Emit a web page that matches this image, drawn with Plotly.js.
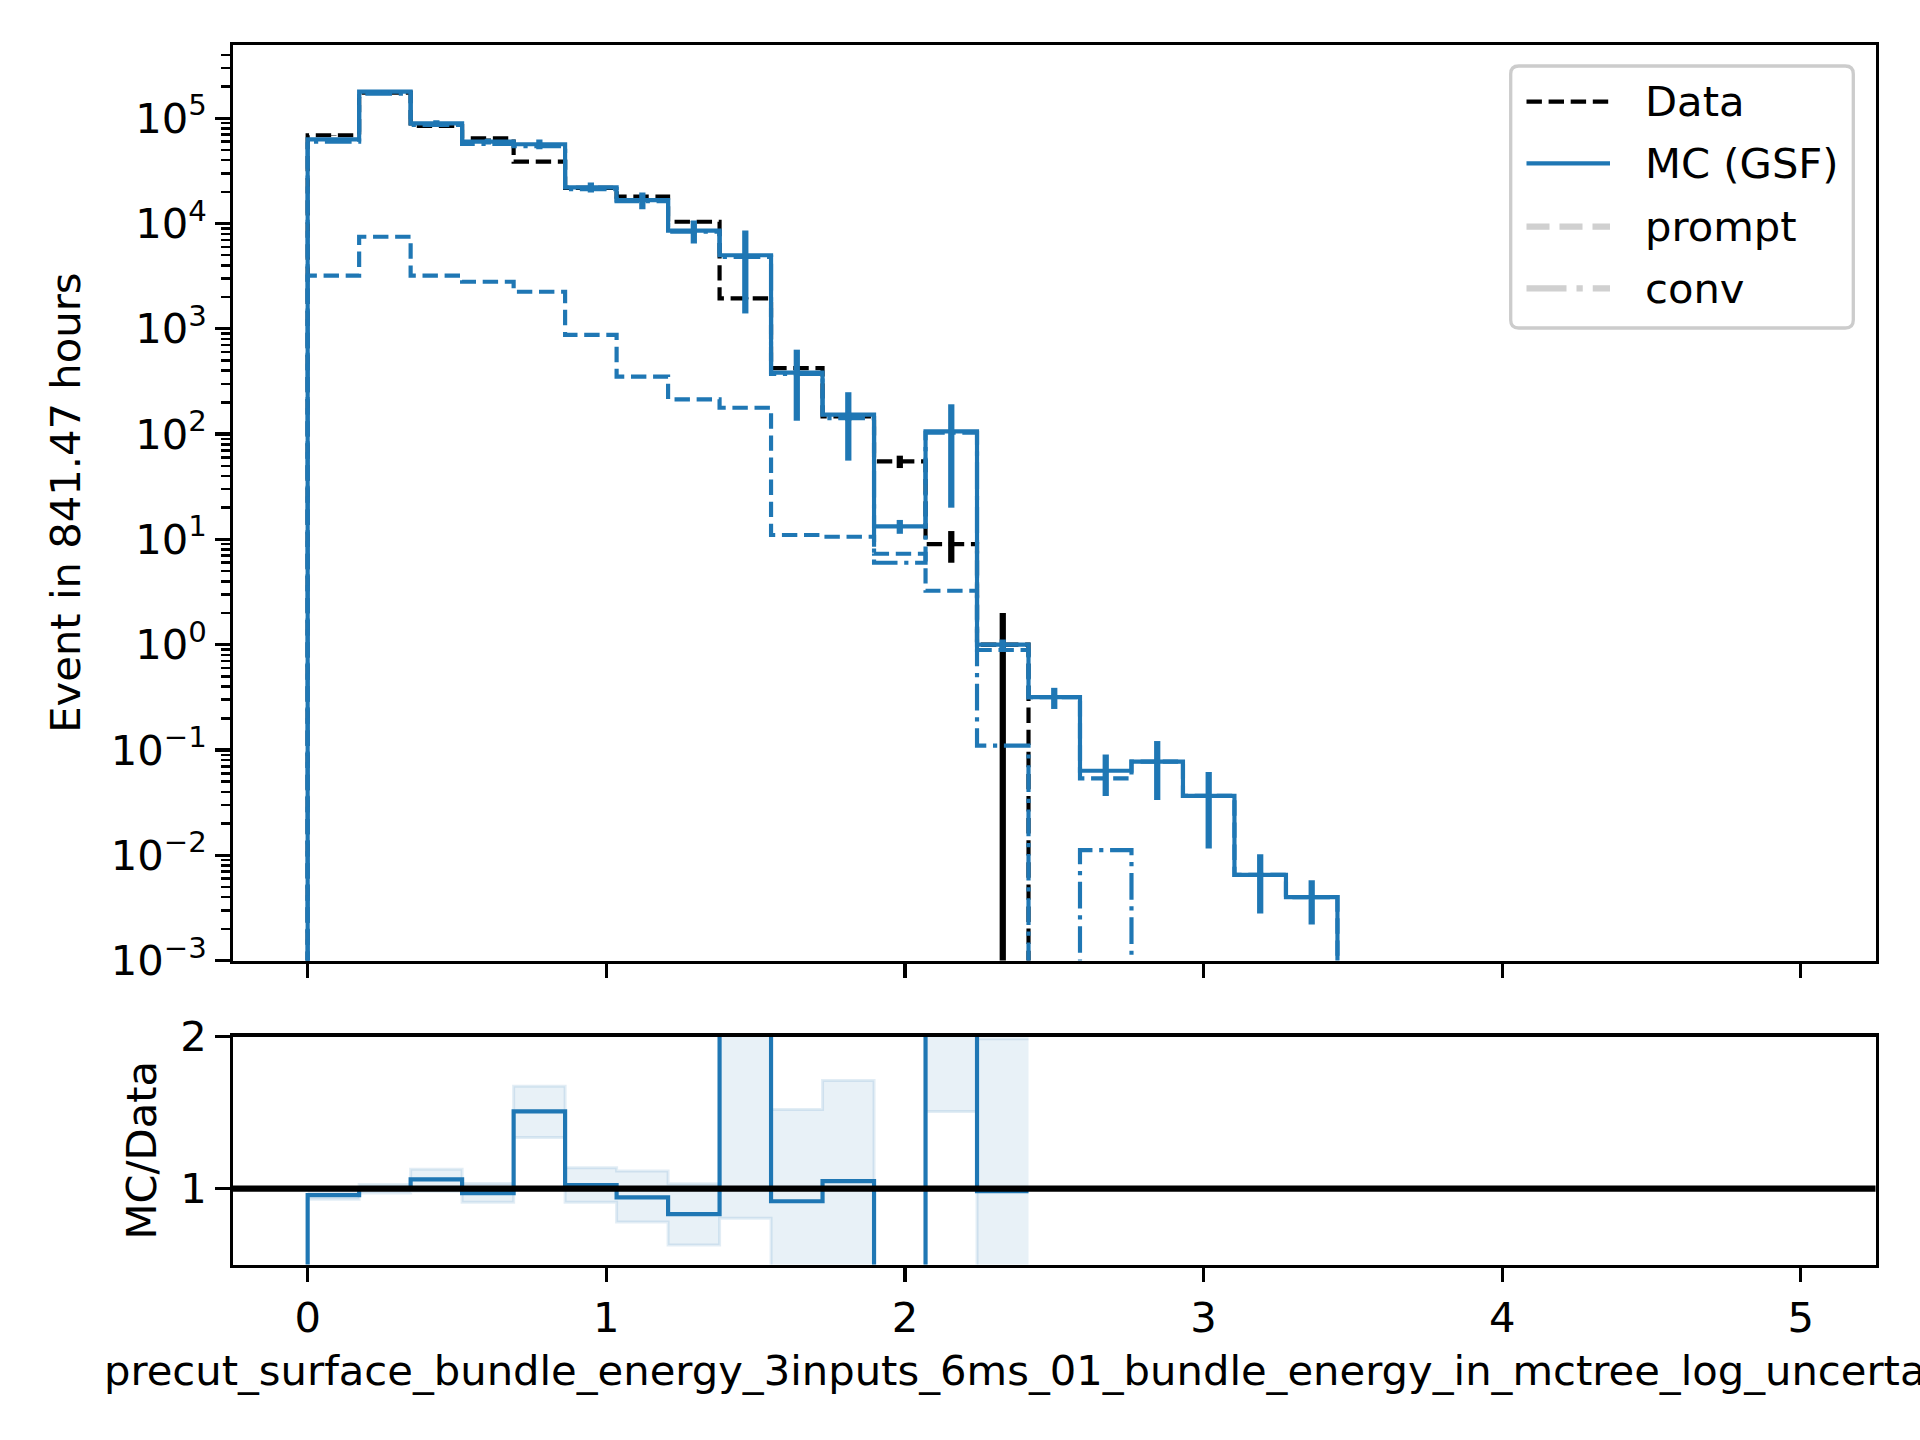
<!DOCTYPE html>
<html>
<head>
<meta charset="utf-8">
<script src="https://cdn.plot.ly/plotly-3.0.1.min.js"></script>
<style>
html, body { margin: 0; padding: 0; background: #ffffff; }
#chart { width: 1920px; height: 1440px; }
</style>
</head>
<body>
<div id="chart"></div>
<script>
// ---------------- data ----------------
const binEdges = [0, 0.1724, 0.3448, 0.5172, 0.6897, 0.8621, 1.0345, 1.2069, 1.3793, 1.5517,
  1.7241, 1.8966, 2.0690, 2.2414, 2.4138, 2.5862, 2.7586, 2.9310, 3.1034, 3.2759,
  3.4483, 3.6207, 3.7931, 3.9655, 4.1379, 4.3103, 4.4828, 4.6552, 4.8276, 5.0];

const dataCounts = [69000, 175000, 84500, 64600, 38700, 21800, 18000, 10400, 1950, 423,
  147, 55, 9, 1, 0, 0, 0, 0, 0, 0, 0, 0, 0, 0, 0, 0, 0, 0, 0];
const dataErr = [263, 418, 291, 254, 197, 148, 134, 102, 44, 21,
  12, 7.4, 3, 1, 0, 0, 0, 0, 0, 0, 0, 0, 0, 0, 0, 0, 0, 0, 0];

const mcTotal = [63000, 179000, 89600, 60000, 56700, 22100, 16700, 8570, 5000, 384,
  153, 13.3, 106, 1.0, 0.317, 0.0635, 0.0775, 0.0366, 0.0065, 0.0040, 0, 0, 0, 0, 0, 0, 0, 0, 0];
const mcErr = [1800, 5000, 6000, 3800, 6000, 2400, 3000, 2100, 3600, 250,
  97, 2.0, 86, 0.12, 0.072, 0.027, 0.044, 0.025, 0.0037, 0.0018, 0, 0, 0, 0, 0, 0, 0, 0, 0];
const mcPrompt = [3200, 7500, 3200, 2800, 2250, 875, 352, 214, 178, 11.0,
  10.6, 7.3, 3.25, 0.89, 0.317, 0.0537, 0.0775, 0.0366, 0.0065, 0.0040, 0, 0, 0, 0, 0, 0, 0, 0, 0];
const mcConv = [59800, 171500, 86400, 57200, 54400, 21200, 16350, 8360, 4820, 373,
  142, 6.0, 103, 0.11, 0, 0.0112, 0, 0, 0, 0, 0, 0, 0, 0, 0, 0, 0, 0, 0];

// ratio MC/Data (bins with data only)
const ratioVals   = [0.956, 1.0, 1.06, 0.97, 1.507, 1.022, 0.942, 0.832, 2.55, 0.916, 1.049, 0.242, 11.8, 0.982];
const ratioBandLo = [0.93, 0.971, 0.982, 0.909, 1.336, 0.909, 0.779, 0.628, 0.805, 0.31, 0.39, 0.20, 1.507, 0.0];
const ratioBandHi = [0.985, 1.027, 1.126, 1.033, 1.673, 1.137, 1.115, 1.031, 4.3, 1.52, 1.71, 0.28, 21, 1.985];

const yTickVals = [1e-3, 1e-2, 1e-1, 1e0, 1e1, 1e2, 1e3, 1e4, 1e5];
const yTickText = ['10<sup>\u22123</sup>', '10<sup>\u22122</sup>', '10<sup>\u22121</sup>', '10<sup>0</sup>',
  '10<sup>1</sup>', '10<sup>2</sup>', '10<sup>3</sup>', '10<sup>4</sup>', '10<sup>5</sup>'];
const xTickVals = [0, 1, 2, 3, 4, 5];
const xTickText = ['0', '1', '2', '3', '4', '5'];
const ratioTickVals = [1, 2];
const ratioTickText = ['1', '2'];

const legendLabels = ['Data', 'MC (GSF)', 'prompt', 'conv'];
const yLabel = 'Event in 841.47 hours';
const ratioLabel = 'MC/Data';
const xLabel = 'precut_surface_bundle_energy_3inputs_6ms_01_bundle_energy_in_mctree_log_uncertainty';

// ---------------- styling ----------------
const W = 1920, H = 1440;
const FONT = 'DejaVu Sans, Liberation Sans, sans-serif';
const FS = 41.7;
const BLUE = '#1f77b4';
const LW = 4.17;          // 1pt @300dpi
const ELW = 6.25;         // 1.5pt
const DASH = '15.4px,6.7px';
const DASHDOT = '26.7px,6.7px,4.2px,6.7px';
const FLOOR = 1e-6;       // stands in for zero on the log axis

const px = v => v / W;
const py = v => 1 - v / H;
const AX_L = 233, AX_R = 1875.5;
const MAIN_T = 45, MAIN_B = 960.5;
const RAT_T = 1036.5, RAT_B = 1264.5;

function stepXY(vals) {
  const n = vals.length;
  const x = [binEdges[0]], y = [FLOOR];
  for (let i = 0; i < n; i++) { x.push(binEdges[i]); y.push(vals[i] > 0 ? vals[i] : FLOOR); }
  x.push(binEdges[n]); y.push(FLOOR);
  return {x, y};
}
function centers(n) {
  const c = [];
  for (let i = 0; i < n; i++) c.push((binEdges[i] + binEdges[i + 1]) / 2);
  return c;
}
const binCenters = centers(binEdges.length - 1);

const traces = [];
// Data histogram
let s = stepXY(dataCounts);
traces.push({x: s.x, y: s.y, type: 'scatter', mode: 'lines', xaxis: 'x', yaxis: 'y',
  line: {color: 'black', width: LW, dash: DASH, shape: 'hv'}, hoverinfo: 'skip'});
// Data error bars
(function () {
  const xs = [], ys = [], ep = [], em = [];
  for (let i = 0; i < dataCounts.length; i++) {
    if (dataCounts[i] > 0) {
      xs.push(binCenters[i]); ys.push(dataCounts[i]); ep.push(dataErr[i]);
      em.push(dataErr[i] >= dataCounts[i] ? dataCounts[i] - FLOOR : dataErr[i]);
    }
  }
  traces.push({x: xs, y: ys, type: 'scatter', mode: 'markers', xaxis: 'x', yaxis: 'y',
    marker: {size: 1, color: 'rgba(0,0,0,0)'}, hoverinfo: 'skip',
    error_y: {type: 'data', symmetric: false, array: ep, arrayminus: em, color: 'black', thickness: ELW, width: 0}});
})();
// MC total
s = stepXY(mcTotal);
traces.push({x: s.x, y: s.y, type: 'scatter', mode: 'lines', xaxis: 'x', yaxis: 'y',
  line: {color: BLUE, width: LW, shape: 'hv'}, hoverinfo: 'skip'});
// prompt
s = stepXY(mcPrompt);
traces.push({x: s.x, y: s.y, type: 'scatter', mode: 'lines', xaxis: 'x', yaxis: 'y',
  line: {color: BLUE, width: LW, dash: DASH, shape: 'hv'}, hoverinfo: 'skip'});
// conv
s = stepXY(mcConv);
traces.push({x: s.x, y: s.y, type: 'scatter', mode: 'lines', xaxis: 'x', yaxis: 'y',
  line: {color: BLUE, width: LW, dash: DASHDOT, shape: 'hv'}, hoverinfo: 'skip'});
// MC error bars
(function () {
  const xs = [], ys = [], ep = [];
  for (let i = 0; i < mcTotal.length; i++) {
    if (mcTotal[i] > 0) { xs.push(binCenters[i]); ys.push(mcTotal[i]); ep.push(mcErr[i]); }
  }
  traces.push({x: xs, y: ys, type: 'scatter', mode: 'markers', xaxis: 'x', yaxis: 'y',
    marker: {size: 1, color: 'rgba(0,0,0,0)'}, hoverinfo: 'skip',
    error_y: {type: 'data', array: ep, color: BLUE, thickness: ELW, width: 0}});
})();

// ratio band
(function () {
  const n = ratioVals.length;
  const bx = [], lo = [], hi = [];
  for (let i = 0; i < n; i++) { bx.push(binEdges[i]); lo.push(ratioBandLo[i]); hi.push(ratioBandHi[i]); }
  bx.push(binEdges[n]); lo.push(ratioBandLo[n - 1]); hi.push(ratioBandHi[n - 1]);
  traces.push({x: bx, y: lo, type: 'scatter', mode: 'lines', xaxis: 'x2', yaxis: 'y2',
    line: {color: 'rgba(31,119,180,0.13)', width: 3, shape: 'hv'}, hoverinfo: 'skip'});
  traces.push({x: bx, y: hi, type: 'scatter', mode: 'lines', xaxis: 'x2', yaxis: 'y2', fill: 'tonexty',
    fillcolor: 'rgba(31,119,180,0.1)',
    line: {color: 'rgba(31,119,180,0.13)', width: 3, shape: 'hv'}, hoverinfo: 'skip'});
  // ratio line
  const rx = [binEdges[0]], ry = [0];
  for (let i = 0; i < n; i++) { rx.push(binEdges[i]); ry.push(ratioVals[i]); }
  rx.push(binEdges[n]); ry.push(ratioVals[n - 1]);
  traces.push({x: rx, y: ry, type: 'scatter', mode: 'lines', xaxis: 'x2', yaxis: 'y2',
    line: {color: BLUE, width: LW, shape: 'hv'}, hoverinfo: 'skip'});
})();

// minor ticks for the log axis
const minorVals = [];
for (let d = -3; d <= 5; d++) for (let k = 2; k <= 9; k++) minorVals.push(k * Math.pow(10, d));

const tickFont = {family: FONT, size: FS, color: 'black'};
const baseAxis = {
  showline: true, linecolor: 'black', linewidth: 3.3, mirror: true,
  ticks: 'outside', ticklen: 14.6, tickwidth: 3.3, tickcolor: 'black',
  showgrid: false, zeroline: false, tickfont: tickFont, fixedrange: true
};

// legend drawn with shapes + annotations
const shapes = [];
const annotations = [];
function roundRect(x0, y0, x1, y1, r) {
  const rx = r / W, ry = r / H;
  const X0 = px(x0), X1 = px(x1), Y0 = py(y0), Y1 = py(y1);
  return `M${X0 + rx},${Y0} L${X1 - rx},${Y0} Q${X1},${Y0} ${X1},${Y0 - ry} ` +
    `L${X1},${Y1 + ry} Q${X1},${Y1} ${X1 - rx},${Y1} L${X0 + rx},${Y1} Q${X0},${Y1} ${X0},${Y1 + ry} ` +
    `L${X0},${Y0 - ry} Q${X0},${Y0} ${X0 + rx},${Y0} Z`;
}
shapes.push({type: 'path', xref: 'paper', yref: 'paper', path: roundRect(1510.7, 66, 1853.3, 328, 8),
  line: {color: '#cccccc', width: 3.3}, fillcolor: 'rgba(255,255,255,0.8)', layer: 'above'});
const legRows = [101.7, 163.3, 226.7, 288.3];
const legStyles = [
  {color: 'black', width: LW, dash: DASH},
  {color: BLUE, width: LW, dash: 'solid'},
  {color: '#d0d0d0', width: ELW, dash: '23px,10px'},
  {color: '#d0d0d0', width: ELW, dash: '40px,10px,6.25px,10px'}
];
for (let i = 0; i < legendLabels.length; i++) {
  shapes.push({type: 'line', xref: 'paper', yref: 'paper', x0: px(1526.5), x1: px(1610),
    y0: py(legRows[i]), y1: py(legRows[i]), line: legStyles[i], layer: 'above'});
  annotations.push({xref: 'paper', yref: 'paper', x: px(1643), y: py(legRows[i]), xanchor: 'left', yanchor: 'middle',
    text: legendLabels[i], showarrow: false, font: {family: FONT, size: FS, color: 'black'}});
}
// horizontal reference line at ratio = 1
shapes.push({type: 'line', xref: 'x2 domain', yref: 'y2', x0: 0, x1: 1, y0: 1, y1: 1,
  line: {color: 'black', width: ELW}, layer: 'above'});

// axis labels
annotations.push({xref: 'paper', yref: 'paper', x: px(66), y: py((MAIN_T + MAIN_B) / 2), xanchor: 'center', yanchor: 'middle',
  textangle: -90, text: yLabel, showarrow: false, font: {family: FONT, size: FS, color: 'black'}});
annotations.push({xref: 'paper', yref: 'paper', x: px(141), y: py((RAT_T + RAT_B) / 2), xanchor: 'center', yanchor: 'middle',
  textangle: -90, text: ratioLabel, showarrow: false, font: {family: FONT, size: FS, color: 'black'}});
annotations.push({xref: 'paper', yref: 'paper', x: px((AX_L + AX_R) / 2), y: py(1370), xanchor: 'center', yanchor: 'middle',
  text: xLabel, showarrow: false, font: {family: FONT, size: FS, color: 'black'}});

const layout = {
  width: W, height: H,
  margin: {l: 0, r: 0, t: 0, b: 0},
  paper_bgcolor: 'white', plot_bgcolor: 'white',
  showlegend: false, hovermode: false,
  xaxis: Object.assign({}, baseAxis, {domain: [px(AX_L), px(AX_R)], anchor: 'y', range: [-0.25, 5.25],
    tickmode: 'array', tickvals: xTickVals, showticklabels: false}),
  yaxis: Object.assign({}, baseAxis, {domain: [py(MAIN_B), py(MAIN_T)], anchor: 'x', type: 'log', range: [-3, 5.696],
    tickmode: 'array', tickvals: yTickVals, ticktext: yTickText,
    minor: {tickmode: 'array', tickvals: minorVals, ticks: 'outside', ticklen: 8.3, tickwidth: 2.5, tickcolor: 'black', showgrid: false}}),
  xaxis2: Object.assign({}, baseAxis, {domain: [px(AX_L), px(AX_R)], anchor: 'y2', range: [-0.25, 5.25],
    tickmode: 'array', tickvals: xTickVals, ticktext: xTickText}),
  yaxis2: Object.assign({}, baseAxis, {domain: [py(RAT_B), py(RAT_T)], anchor: 'x2', range: [0.5, 2],
    tickmode: 'array', tickvals: ratioTickVals, ticktext: ratioTickText}),
  shapes: shapes,
  annotations: annotations
};

Plotly.newPlot('chart', traces, layout, {staticPlot: true, displayModeBar: false});
</script>
</body>
</html>
